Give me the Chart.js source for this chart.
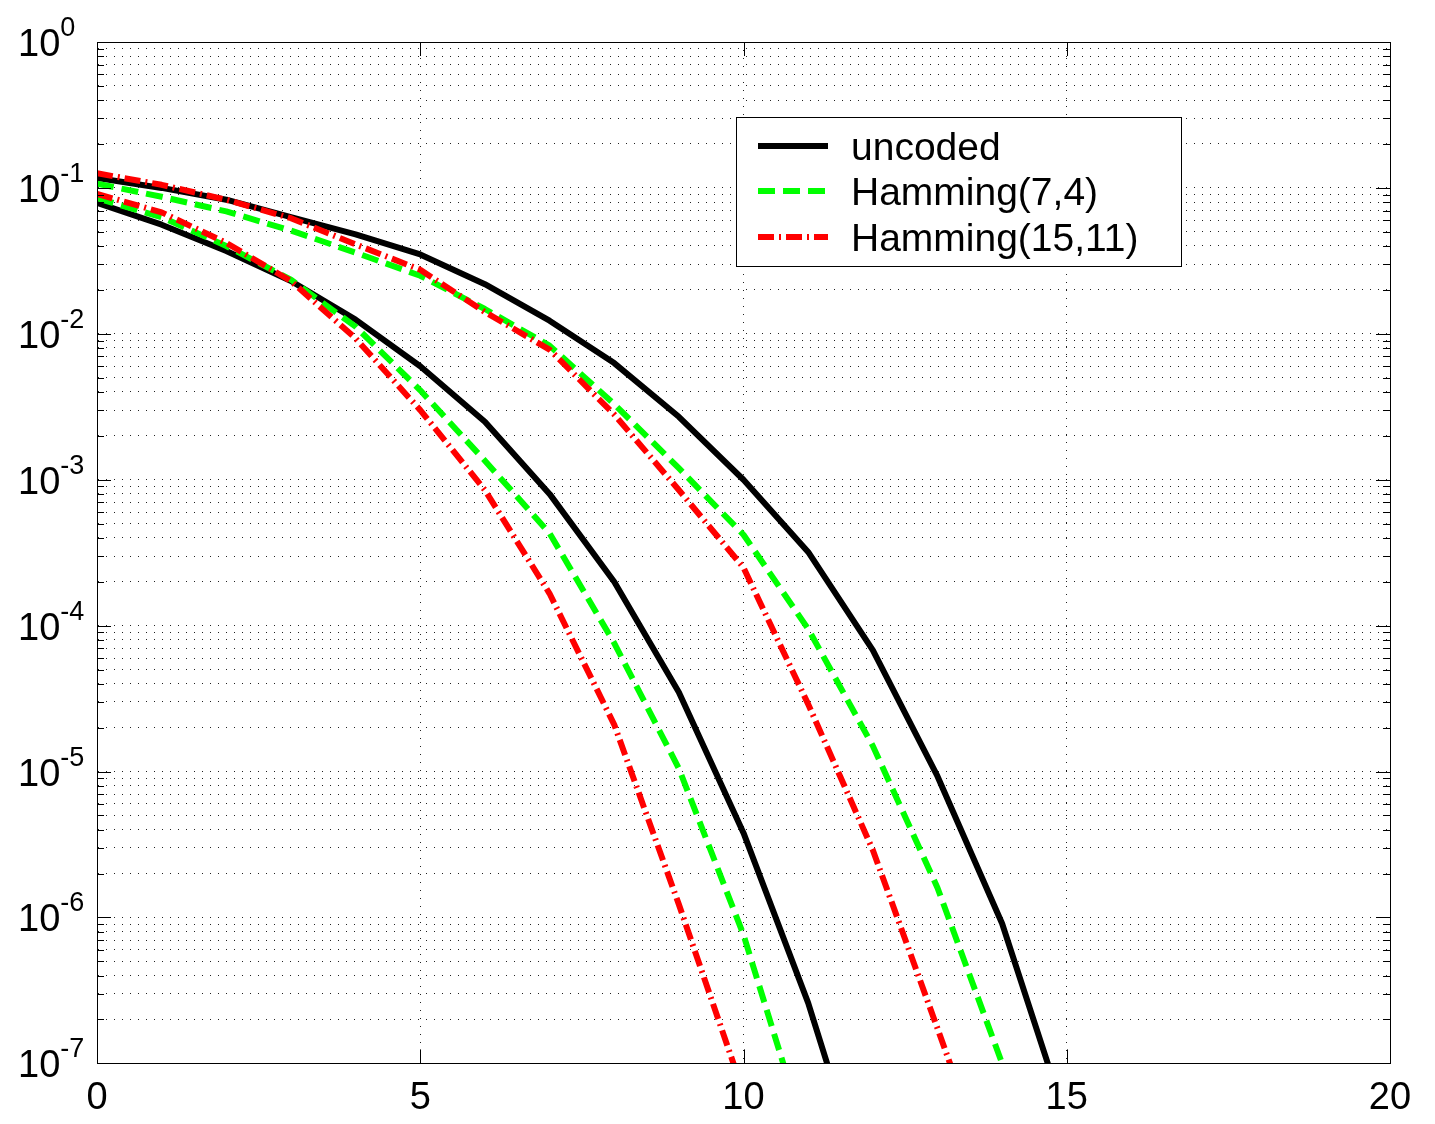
<!DOCTYPE html>
<html lang="en">
<head>
  <meta charset="UTF-8" />
  <title>BER: uncoded vs Hamming codes</title>
  <script src="https://cdn.jsdelivr.net/npm/chart.js"></script>
  <style>
    html, body {
      margin: 0;
      padding: 0;
      background: #fff;
    }
    canvas {
      display: block;
    }
  </style>
</head>
<body>
  <canvas id="berChart" width="1435" height="1124"></canvas>

  <script>
    // Eb/N0 points (dB)
    const snr = [0, 1, 2, 3, 4, 5, 6, 7, 8, 9, 10, 11, 12, 13, 14, 15];
    const xTicks = [0, 5, 10, 15, 20];
    const yExponents = [0, -1, -2, -3, -4, -5, -6, -7];
    const seriesNames = ['uncoded', 'Hamming(7,4)', 'Hamming(15,11)'];

    // left family of curves
    const uncodedA  = [7.9e-2, 5.6e-2, 3.7e-2, 2.3e-2, 1.25e-2, 6.0e-3, 2.5e-3, 8.0e-4, 2.0e-4, 3.5e-5, 3.8e-6, 2.6e-7, 1.0e-8];
    const ham74A    = [8.5e-2, 6.3e-2, 4.0e-2, 2.35e-2, 1.12e-2, 4.1e-3, 1.35e-3, 4.3e-4, 7.6e-5, 1.05e-5, 7.6e-7, 2.8e-8];
    const ham1511A  = [9.1e-2, 6.8e-2, 4.2e-2, 2.3e-2, 9.3e-3, 3.0e-3, 8.5e-4, 1.66e-4, 2.1e-5, 1.23e-6, 6.3e-8];

    // right family of curves
    const uncodedB  = [0.117, 0.100, 0.083, 0.063, 0.048, 0.035, 0.0219, 0.0123, 6.3e-3, 2.7e-3, 1.0e-3, 3.2e-4, 6.8e-5, 9.3e-6, 9.1e-7, 4.0e-8];
    const ham74B    = [0.107, 0.087, 0.069, 0.051, 0.036, 0.025, 0.0148, 8.3e-3, 3.3e-3, 1.2e-3, 4.2e-4, 9.5e-5, 1.5e-5, 1.6e-6, 1.0e-7, 4.0e-9];
    const ham1511B  = [0.126, 0.105, 0.083, 0.062, 0.041, 0.0275, 0.0141, 7.8e-3, 2.8e-3, 8.5e-4, 2.5e-4, 2.9e-5, 2.9e-6, 1.74e-7, 1.0e-8];

    const FONT = '"Liberation Sans", Arial, Helvetica, sans-serif';

    const styles = [
      { color: '#000000', dash: [], order: 3 },
      { color: '#00ff00', dash: [17, 8], order: 2 },
      { color: '#ff0000', dash: [16, 5, 2, 5], order: 1 }
    ];

    function toPoints(values) {
      return values.map((v, i) => ({ x: snr[i], y: v }));
    }

    function makeDataset(values, idx) {
      const s = styles[idx];
      return {
        label: seriesNames[idx],
        data: toPoints(values),
        borderColor: s.color,
        backgroundColor: s.color,
        borderWidth: 6,
        borderDash: s.dash,
        borderJoinStyle: 'round',
        pointRadius: 0,
        tension: 0,
        fill: false,
        clip: 0,
        order: s.order
      };
    }

    // tick marks inside the box, top/right frame, y labels with exponents, legend
    const matlabFrame = {
      id: 'matlabFrame',
      afterDraw(chart) {
        const { ctx, chartArea: a, scales: { x, y } } = chart;
        ctx.save();
        ctx.strokeStyle = '#000';
        ctx.lineWidth = 1;
        ctx.setLineDash([]);
        ctx.strokeRect(Math.round(a.left) + 0.5, Math.round(a.top) + 0.5,
          Math.round(a.right - a.left), Math.round(a.bottom - a.top));

        ctx.beginPath();
        y.ticks.forEach(t => {
          const py = Math.round(y.getPixelForValue(t.value)) + 0.5;
          const len = t.major ? 14 : 7;
          ctx.moveTo(a.left, py); ctx.lineTo(a.left + len, py);
          ctx.moveTo(a.right, py); ctx.lineTo(a.right - len, py);
        });
        x.ticks.forEach(t => {
          const px = Math.round(x.getPixelForValue(t.value)) + 0.5;
          ctx.moveTo(px, a.bottom); ctx.lineTo(px, a.bottom - 14);
          ctx.moveTo(px, a.top); ctx.lineTo(px, a.top + 14);
        });
        ctx.stroke();

        // y labels: 10 with superscript exponent
        ctx.fillStyle = '#000';
        ctx.textAlign = 'left';
        ctx.textBaseline = 'alphabetic';
        yExponents.forEach(e => {
          const py = y.getPixelForValue(Math.pow(10, e));
          ctx.font = '38px ' + FONT;
          ctx.fillText('10', 18, py + 14);
          const w = ctx.measureText('10').width;
          ctx.font = '27px ' + FONT;
          ctx.fillText(String(e), 18 + w, py - 6);
        });

        // legend
        const box = { x: 736, y: 117, w: 445, h: 149 };
        ctx.fillStyle = '#fff';
        ctx.fillRect(box.x, box.y, box.w, box.h);
        ctx.strokeStyle = '#000';
        ctx.lineWidth = 1;
        ctx.strokeRect(box.x + 0.5, box.y + 0.5, box.w, box.h);
        const rowY = [146, 191, 237];
        seriesNames.forEach((name, i) => {
          const s = styles[i];
          ctx.strokeStyle = s.color;
          ctx.lineWidth = 6;
          ctx.setLineDash(s.dash);
          ctx.beginPath();
          ctx.moveTo(758, rowY[i]);
          ctx.lineTo(828, rowY[i]);
          ctx.stroke();
          ctx.setLineDash([]);
          ctx.fillStyle = '#000';
          ctx.font = '39px ' + FONT;
          ctx.fillText(name, 851, rowY[i] + 14);
        });
        ctx.restore();
      }
    };

    const ctx = document.getElementById('berChart').getContext('2d');
    new Chart(ctx, {
      type: 'line',
      data: {
        datasets: [
          makeDataset(uncodedA, 0),
          makeDataset(uncodedB, 0),
          makeDataset(ham74A, 1),
          makeDataset(ham74B, 1),
          makeDataset(ham1511A, 2),
          makeDataset(ham1511B, 2)
        ]
      },
      options: {
        responsive: false,
        animation: false,
        layout: { padding: { left: 97, right: 45, top: 42, bottom: -9 } },
        plugins: {
          legend: { display: false },
          tooltip: { enabled: false }
        },
        scales: {
          x: {
            type: 'linear',
            min: 0,
            max: 20,
            afterBuildTicks: scale => {
              scale.ticks = xTicks.map(v => ({ value: v }));
            },
            ticks: {
              color: '#000',
              padding: 12,
              font: { family: FONT, size: 38 },
              maxRotation: 0
            },
            grid: { color: '#222', lineWidth: 1, drawTicks: false },
            border: { display: true, color: '#000', width: 1, dash: [1, 7] }
          },
          y: {
            type: 'logarithmic',
            min: 1e-7,
            max: 1,
            afterBuildTicks: scale => {
              const ticks = [];
              for (let e = -7; e < 0; e++) {
                for (let m = 1; m < 10; m++) {
                  ticks.push({ value: m * Math.pow(10, e), major: m === 1 });
                }
              }
              ticks.push({ value: 1, major: true });
              scale.ticks = ticks;
            },
            ticks: { display: false },
            grid: { color: '#222', lineWidth: 1, drawTicks: false },
            border: { display: true, color: '#000', width: 1, dash: [1, 7] }
          }
        }
      },
      plugins: [matlabFrame]
    });
  </script>
</body>
</html>
